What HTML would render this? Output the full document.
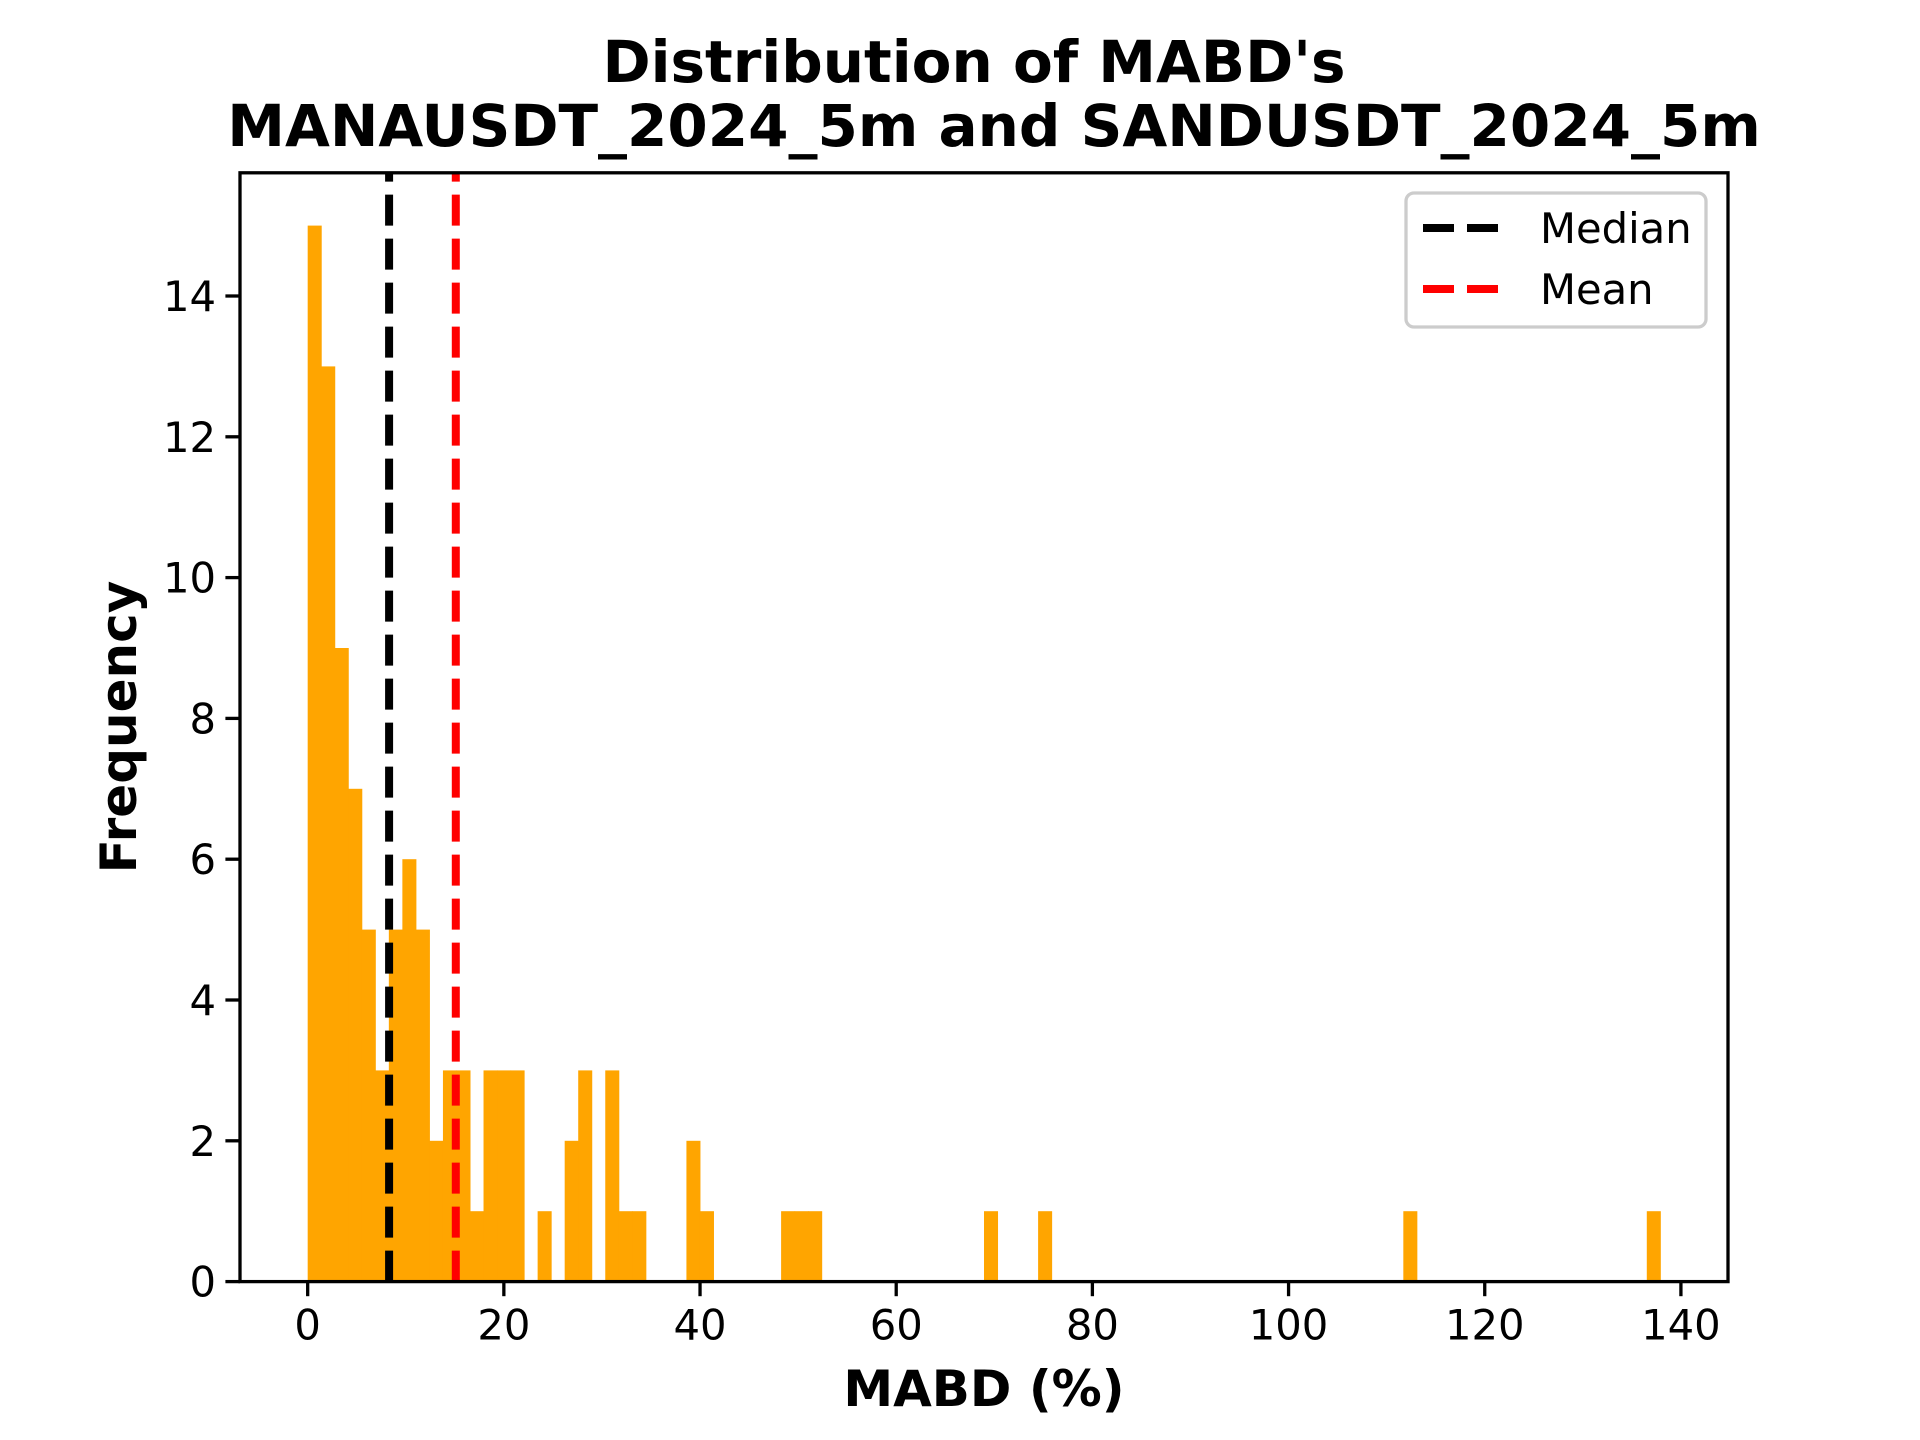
<!DOCTYPE html>
<html><head><meta charset="utf-8"><style>
html,body{margin:0;padding:0;background:#fff;}
svg{display:block;font-family:"DejaVu Sans","Liberation Sans",sans-serif;}
</style></head><body>
<svg id="chart" width="1920" height="1440" viewBox="0 0 1920 1440">
<rect width="1920" height="1440" fill="#fff"/>
<text x="974" y="82" text-anchor="middle" font-size="58" font-weight="bold">Distribution of MABD's</text>
<text x="994" y="146" text-anchor="middle" font-size="58" font-weight="bold">MANAUSDT_2024_5m and SANDUSDT_2024_5m</text>
<g id="bars"></g>
<g id="vlines"></g>
<g id="xticks"></g>
<g id="yticks"></g>
<rect x="240" y="172.8" width="1488" height="1108.8" fill="none" stroke="#000" stroke-width="3.3"/>
<text x="984" y="1406" text-anchor="middle" font-size="50" font-weight="bold">MABD (%)</text>
<text transform="translate(136,727) rotate(-90)" text-anchor="middle" font-size="50" font-weight="bold">Frequency</text>
<g>
<rect x="1406" y="193" width="300" height="134" rx="8" fill="#fff" fill-opacity="0.8" stroke="#ccc" stroke-width="3.3"/>
<line x1="1423" y1="228" x2="1506" y2="228" stroke="#000" stroke-width="8" stroke-dasharray="31,13"/>
<text x="1540" y="243" font-size="41.7">Median</text>
<line x1="1423" y1="289" x2="1506" y2="289" stroke="#f00" stroke-width="8" stroke-dasharray="31,13"/>
<text x="1540" y="304" font-size="41.7">Mean</text>
</g>
</svg>
<script>
const binStart = 0.0;
const binWidth = 1.379;
const counts = [15,13,9,7,5,3,5,6,5,2,3,3,1,3,3,3,0,1,0,2,3,0,3,1,1,0,0,0,2,1,
0,0,0,0,0,1,1,1,0,0,0,0,0,0,0,0,0,0,0,0,1,0,0,0,1,0,0,0,0,0,
0,0,0,0,0,0,0,0,0,0,0,0,0,0,0,0,0,0,0,0,0,1,0,0,0,0,0,0,0,0,
0,0,0,0,0,0,0,0,0,1];
const medianValue = 8.3;
const meanValue = 15.1;
const xTicks = [0,20,40,60,80,100,120,140];
const yTicks = [0,2,4,6,8,10,12,14];
const NS = "http://www.w3.org/2000/svg";
const L=240,R=1728,T=172.8,B=1281.6;
const xMin=-6.9,xMax=144.8,yMax=15.75;
const xs=v=>L+(v-xMin)/(xMax-xMin)*(R-L);
const ys=v=>B-v/yMax*(B-T);
function mk(tag,attrs){const e=document.createElementNS(NS,tag);for(const k in attrs)e.setAttribute(k,attrs[k]);return e;}
const bars=document.getElementById('bars');
counts.forEach((c,i)=>{
  if(!c) return;
  const x0=xs(binStart+i*binWidth), x1=xs(binStart+(i+1)*binWidth);
  const r=mk('rect',{x:x0,y:ys(c),width:x1-x0+0.5,height:B-ys(c),fill:'#ffa500'});
  
  
  bars.appendChild(r);
});
const vl=document.getElementById('vlines');
[[medianValue,'#000','median-line'],[meanValue,'#f00','mean-line']].forEach(([v,col,n])=>{
  const l=mk('line',{x1:xs(v),x2:xs(v),y1:B,y2:T,stroke:col,'stroke-width':8,'stroke-dasharray':'31,13'});
  
  
  vl.appendChild(l);
});
const xg=document.getElementById('xticks');
xTicks.forEach(v=>{
  const x=xs(v);
  const t=mk('line',{x1:x,x2:x,y1:B,y2:B+14.6,stroke:'#000','stroke-width':3.3});
  
  
  xg.appendChild(t);
  const tx=mk('text',{x:x,y:B+58,'text-anchor':'middle','font-size':41.7});
  tx.textContent=v;
  
  
  xg.appendChild(tx);
});
const yg=document.getElementById('yticks');
yTicks.forEach(v=>{
  const y=ys(v);
  const t=mk('line',{x1:L-14.6,x2:L,y1:y,y2:y,stroke:'#000','stroke-width':3.3});
  
  
  yg.appendChild(t);
  const tx=mk('text',{x:L-24,y:y+15,'text-anchor':'end','font-size':41.7});
  tx.textContent=v;
  
  
  yg.appendChild(tx);
});
</script>
</body></html>
